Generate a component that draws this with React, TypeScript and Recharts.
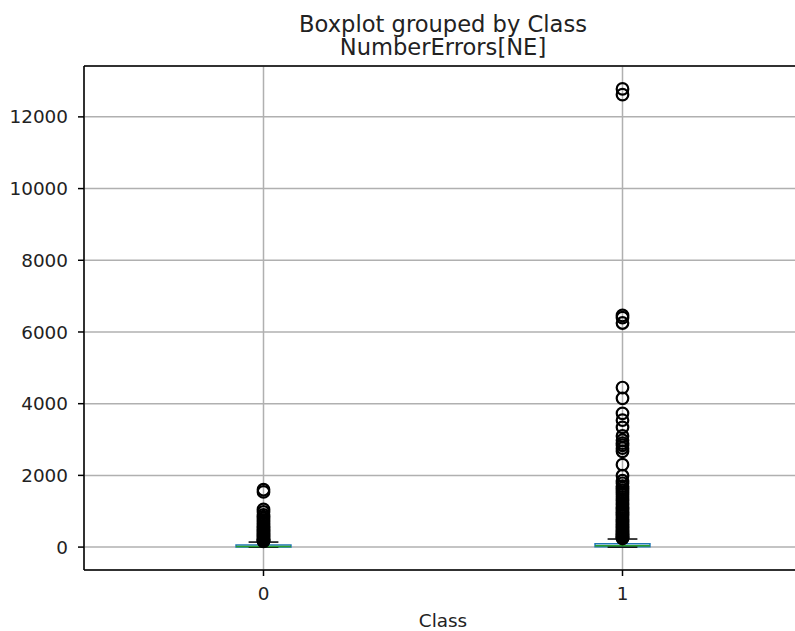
import React from "react";
import {
  ComposedChart,
  XAxis,
  YAxis,
  CartesianGrid,
  Scatter,
  ReferenceLine,
  ReferenceArea,
} from "recharts";

// ---- data ----
const classes = [0, 1];
const whiskerLow = [0, 0];
const q1 = [2, 8];
const medians = [15, 35];
const q3 = [58, 95];
const whiskerHigh = [140, 225];
const outliers0 = [
  1600, 1540, 1050, 980, 900, 850, 800, 750, 700, 650, 600, 560, 520, 480, 440,
  400, 370, 340, 310, 280, 250, 220, 200, 180, 160,
];
const outliers1 = [
  12780, 12620, 6460, 6400, 6250, 4450, 4150, 3730, 3540, 3340, 3100, 2980,
  2900, 2840, 2760, 2670, 2300, 1990, 1850, 1780, 1700, 1640, 1580, 1520, 1460,
  1400, 1340, 1290, 1230, 1180, 1120, 1070, 1010, 960, 910, 860, 810, 760, 720,
  680, 640, 600, 560, 520, 480, 450, 420, 390, 360, 330, 300, 280, 260, 240,
];
const yTicks = [0, 2000, 4000, 6000, 8000, 10000, 12000];
const xTicks = [0, 1];
const yDomain: [number, number] = [-639, 13419];
const xDomain: [number, number] = [-0.5, 1.5];
const titleLine1 = "Boxplot grouped by Class";
const titleLine2 = "NumberErrors[NE]";
const xLabel = "Class";

// ---- styles ----
const BOX_HALF = 0.0765;
const CAP_HALF = 0.0415;
const BLUE = "#1f77b4";
const GREEN = "#2ca02c";
const FONT = "DejaVu Sans";
const LW = 1.5;

const scatter0 = outliers0.map((y) => ({ x: classes[0], y }));
const scatter1 = outliers1.map((y) => ({ x: classes[1], y }));

const Ring = (props: any) => {
  const { cx, cy } = props;
  if (cx == null || cy == null) return null;
  return <circle cx={cx} cy={cy} r={5.8} fill="none" stroke="#000" strokeWidth={2.2} />;
};

export default function App() {
  const tick = { fontFamily: FONT, fontSize: 18.4, fill: "#222" };
  const seg = (x1: number, y1: number, x2: number, y2: number) => [
    { x: x1, y: y1 },
    { x: x2, y: y2 },
  ];
  return (
    <div
      style={{
        position: "fixed",
        left: 0,
        top: 0,
        width: 795,
        height: 631,
        overflow: "hidden",
        background: "#fff",
      }}
    >
      <ComposedChart
        width={820}
        height={631}
        margin={{ top: 66, right: 18, bottom: 0, left: 0 }}
      >
        <CartesianGrid stroke="#b0b0b0" strokeWidth={LW} />
        <XAxis
          type="number"
          dataKey="x"
          domain={xDomain}
          ticks={xTicks}
          allowDataOverflow
          height={61}
          tick={tick}
          tickSize={6}
          tickMargin={11}
          tickLine={{ stroke: "#000", strokeWidth: LW }}
          axisLine={{ stroke: "#000", strokeWidth: LW }}
          label={{
            value: xLabel,
            position: "insideBottom",
            offset: 4,
            style: { fontFamily: FONT, fontSize: 18.4, fill: "#222" },
          }}
        />
        <YAxis
          type="number"
          dataKey="y"
          domain={yDomain}
          ticks={yTicks}
          allowDataOverflow
          width={84}
          tick={tick}
          tickSize={6}
          tickMargin={10}
          tickLine={{ stroke: "#000", strokeWidth: LW }}
          axisLine={{ stroke: "#000", strokeWidth: LW }}
        />
        <ReferenceLine
          y={yDomain[1]}
          stroke="#000"
          strokeWidth={LW}
          ifOverflow="visible"
        />
        {classes.map((c, i) => (
          <ReferenceArea
            key={"box" + i}
            x1={c - BOX_HALF}
            x2={c + BOX_HALF}
            y1={q1[i]}
            y2={q3[i]}
            fill="none"
            fillOpacity={0}
            stroke={BLUE}
            strokeWidth={LW}
            strokeOpacity={1}
            ifOverflow="visible"
          />
        ))}
        {classes.map((c, i) => (
          <ReferenceLine
            key={"wu" + i}
            segment={seg(c, q3[i], c, whiskerHigh[i])}
            stroke={BLUE}
            strokeWidth={LW}
            ifOverflow="visible"
          />
        ))}
        {classes.map((c, i) => (
          <ReferenceLine
            key={"wl" + i}
            segment={seg(c, whiskerLow[i], c, q1[i])}
            stroke={BLUE}
            strokeWidth={LW}
            ifOverflow="visible"
          />
        ))}
        {classes.map((c, i) => (
          <ReferenceLine
            key={"ch" + i}
            segment={seg(c - CAP_HALF, whiskerHigh[i], c + CAP_HALF, whiskerHigh[i])}
            stroke="#000"
            strokeWidth={LW}
            ifOverflow="visible"
          />
        ))}
        {classes.map((c, i) => (
          <ReferenceLine
            key={"cl" + i}
            segment={seg(c - CAP_HALF, whiskerLow[i], c + CAP_HALF, whiskerLow[i])}
            stroke="#000"
            strokeWidth={LW}
            ifOverflow="visible"
          />
        ))}
        {classes.map((c, i) => (
          <ReferenceLine
            key={"md" + i}
            segment={seg(c - BOX_HALF, medians[i], c + BOX_HALF, medians[i])}
            stroke={GREEN}
            strokeWidth={LW}
            ifOverflow="visible"
          />
        ))}
        <Scatter data={scatter0} shape={Ring} isAnimationActive={false} />
        <Scatter data={scatter1} shape={Ring} isAnimationActive={false} />
      </ComposedChart>
      <svg
        width={795}
        height={70}
        style={{ position: "absolute", left: 0, top: 0, pointerEvents: "none" }}
      >
        <text
          x={443}
          y={32}
          textAnchor="middle"
          fontFamily={FONT}
          fontSize={22.6}
          fill="#222"
        >
          {titleLine1}
        </text>
        <text
          x={443}
          y={55}
          textAnchor="middle"
          fontFamily={FONT}
          fontSize={22.6}
          fill="#222"
        >
          {titleLine2}
        </text>
      </svg>
    </div>
  );
}
